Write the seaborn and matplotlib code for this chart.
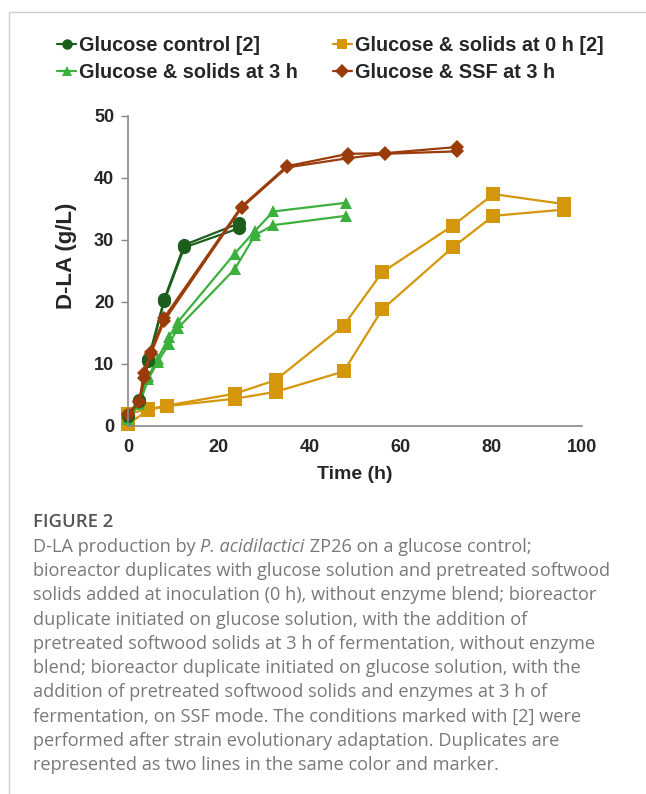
import matplotlib
matplotlib.use("Agg")
import matplotlib.pyplot as plt
from matplotlib.lines import Line2D
import pandas as pd
import seaborn as sns

# time points (h) and D-LA (g/L), two bioreactor duplicates per condition
t_ctrl = [0, 2.5, 4.5, 8, 12.4, 24.5]
ctrl_a = [1.8, 4.2, 10.8, 20.5, 29.2, 32.7]
ctrl_b = [1.6, 4.0, 10.5, 20.2, 28.8, 31.9]

t_s0 = [0, 4.5, 8.5, 23.5, 32.5, 47.5, 56, 71.5, 80.5, 96]
s0_a = [2.0, 2.7, 3.3, 5.2, 7.4, 16.2, 24.8, 32.3, 37.4, 35.8]
s0_b = [0.3, 2.6, 3.2, 4.4, 5.5, 8.8, 18.8, 28.8, 33.9, 34.9]

t_s3 = [0, 2.5, 4.5, 6.5, 9, 11, 23.5, 28, 32, 48]
s3_a = [1.5, 3.8, 8.0, 10.8, 14.3, 16.8, 27.8, 31.5, 34.6, 36.0]
s3_b = [1.2, 3.5, 7.6, 10.3, 13.2, 15.8, 25.3, 30.8, 32.4, 33.9]

t_ssf = [0, 2.5, 3.5, 5, 8, 25, 35, 48.5, 56.5, 72.5]
ssf_a = [2.0, 4.0, 8.6, 12.0, 17.5, 35.4, 41.9, 43.9, 44.0, 45.0]
ssf_b = [1.8, 3.9, 7.8, 11.6, 17.0, 35.2, 41.7, 43.2, 43.9, 44.3]

labels = ["Glucose control [2]", "Glucose & solids at 3 h",
          "Glucose & solids at 0 h [2]", "Glucose & SSF at 3 h"]
colors = ["#1d5e1d", "#3cb03c", "#d4960a", "#9a3b0a"]
markers = ["o", "^", "s", "D"]
msizes = [9.5, 9, 9.5, 7.5]

series = [
    (labels[0], t_ctrl, ctrl_a, ctrl_b),
    (labels[1], t_s3, s3_a, s3_b),
    (labels[2], t_s0, s0_a, s0_b),
    (labels[3], t_ssf, ssf_a, ssf_b),
]

rows = []
for name, t, a, b in series:
    for rep, vals in (("A", a), ("B", b)):
        for ti, v in zip(t, vals):
            rows.append({"time": ti, "dla": v, "condition": name, "rep": rep})
df = pd.DataFrame(rows)

sns.set_style("white")
plt.rcParams["font.family"] = ["Liberation Sans", "DejaVu Sans"]

fig = plt.figure(figsize=(6.46, 7.94), dpi=100)
ax = fig.add_axes([128 / 646, 1 - 426 / 794, 454 / 646, 310 / 794])

draw_order = [2, 1, 0, 3]
for i in draw_order:
    sub = df[df["condition"] == labels[i]]
    sns.lineplot(data=sub, x="time", y="dla", units="rep", estimator=None,
                 color=colors[i], marker=markers[i], markersize=msizes[i],
                 markeredgewidth=0, linewidth=1.6, sort=False, ax=ax,
                 legend=False)

ax.set_xlim(0, 100)
ax.set_ylim(0, 50)
ax.set_xticks([0, 20, 40, 60, 80, 100])
ax.set_yticks([0, 10, 20, 30, 40, 50])
ax.tick_params(axis="x", length=0, pad=9, labelsize=13)
ax.tick_params(axis="y", length=5, width=1, color="#888888", pad=5,
               labelsize=13, left=True)
for lab in ax.get_xticklabels() + ax.get_yticklabels():
    lab.set_fontweight("bold")
for s in ["top", "right"]:
    ax.spines[s].set_visible(False)
for s in ["left", "bottom"]:
    ax.spines[s].set_color("#888888")
    ax.spines[s].set_linewidth(1.2)
for line in ax.lines:
    line.set_clip_on(False)

ax.set_xlabel("Time (h)", fontsize=14, fontweight="bold")
ax.set_ylabel("D-LA (g/L)", fontsize=16, fontweight="bold")
ax.xaxis.set_label_coords(0.5, -0.13)
ax.yaxis.set_label_coords(-0.112, 0.55)

handles = [Line2D([], [], color=c, marker=m, markersize=7.5, linewidth=1.6,
                  markeredgewidth=0) for c, m in zip(colors, markers)]
fig.legend(handles, labels, loc="upper left", bbox_to_anchor=(0.089, 0.955),
           ncol=2, frameon=False, prop={"weight": "bold", "size": 14.3},
           handlelength=0.95, handletextpad=0.15, columnspacing=1.75,
           labelspacing=0.4, borderpad=0, borderaxespad=0)

# frame of the figure panel
fig.add_artist(Line2D([9 / 646, 9 / 646], [0, 1 - 12 / 794],
                      transform=fig.transFigure, color="#d0d0d0", lw=1))
fig.add_artist(Line2D([9 / 646, 1], [1 - 12 / 794, 1 - 12 / 794],
                      transform=fig.transFigure, color="#d0d0d0", lw=1))

# caption
cap_font = ["Open Sans", "DejaVu Sans"]
x0 = 33 / 646
fig.text(x0, 1 - 522 / 794, "FIGURE 2", fontsize=13.3, fontweight="semibold",
         color="#555555", family=cap_font, va="center")

caption = [
    None,
    "bioreactor duplicates with glucose solution and pretreated softwood",
    "solids added at inoculation (0 h), without enzyme blend; bioreactor",
    "duplicate initiated on glucose solution, with the addition of",
    "pretreated softwood solids at 3 h of fermentation, without enzyme",
    "blend; bioreactor duplicate initiated on glucose solution, with the",
    "addition of pretreated softwood solids and enzymes at 3 h of",
    "fermentation, on SSF mode. The conditions marked with [2] were",
    "performed after strain evolutionary adaptation. Duplicates are",
    "represented as two lines in the same color and marker.",
]
cap_kw = dict(fontsize=13.1, color="#787878", family=cap_font, va="center")
y_first = 547
step = 24.2
for k, line in enumerate(caption):
    y = 1 - (y_first + k * step) / 794
    if line is not None:
        fig.text(x0, y, line, **cap_kw)

# first caption line with italic species name
renderer = fig.canvas.get_renderer()
y = 1 - y_first / 794
xpos = x0
for part, style in (("D-LA production by ", "normal"),
                    ("P. acidilactici", "italic"),
                    (" ZP26 on a glucose control;", "normal")):
    t = fig.text(xpos, y, part, style=style, **cap_kw)
    bb = t.get_window_extent(renderer=renderer)
    xpos = bb.x1 / fig.bbox.width

fig.savefig("out.png", dpi=100)
